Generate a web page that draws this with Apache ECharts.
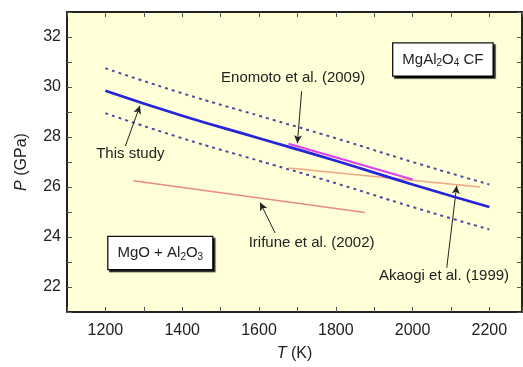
<!DOCTYPE html>
<html>
<head>
<meta charset="utf-8">
<script src="https://cdn.jsdelivr.net/npm/echarts@6/dist/echarts.min.js"></script>
<style>
html,body{margin:0;padding:0;background:#fff;}
#chart{width:523px;height:367px;}
</style>
</head>
<body>
<div id="chart"></div>
<script>
// ---- data ----
const temps = [1200, 1400, 1600, 1800, 2000, 2200];
const thisStudyP = [29.85, 28.85, 27.95, 27.05, 26.1, 25.2];
const upperP = [30.75, 29.75, 28.85, 27.95, 27.0, 26.1];
const lowerP = [28.95, 27.95, 27.05, 26.15, 25.2, 24.3];
const enomotoT = [1677, 2000];
const enomotoP = [27.73, 26.3];
const akaogiT = [1677, 2175];
const akaogiP = [26.76, 26.0];
const irifuneT = [1273, 1876];
const irifuneP = [26.25, 24.98];
const xTickLabels = [1200, 1400, 1600, 1800, 2000, 2200];
const yTickLabels = [22, 24, 26, 28, 30, 32];
// annotations: text, T, P
const notes = [
  ['This study', 1265, 27.33],
  ['Enomoto et al. (2009)', 1689, 30.37],
  ['Irifune et al. (2002)', 1737, 23.76],
  ['Akaogi et al. (1999)', 2082, 22.45]
];
const boxes = [
  ['MgAl{sub|2}O{sub|4} CF', 2079, 31.1],
  ['MgO + Al{sub|2}O{sub|3}', 1343, 23.36]
];
const arrows = [
  [[1252, 27.64], [1290, 29.25]],
  [[1711, 29.83], [1700, 27.75]],
  [[1642, 24.16], [1603, 25.38]],
  [[2089, 22.77], [2115, 26.05]]
];

const zip = (xs, ys) => xs.map((x, i) => [x, ys[i]]);
const txt = '#222';
const axisCol = '#222';

const baseX = {
  type: 'value', min: 1100, max: 2285, interval: 100,
  axisLine: { show: true, onZero: false, lineStyle: { color: axisCol, width: 2 } },
  axisTick: { show: true, inside: true, length: 5, lineStyle: { color: '#555' } },
  splitLine: { show: false }
};
const baseY = {
  type: 'value', min: 21, max: 33, interval: 1,
  axisLine: { show: true, onZero: false, lineStyle: { color: axisCol, width: 2 } },
  axisTick: { show: true, inside: true, length: 5, lineStyle: { color: '#555' } },
  splitLine: { show: false }
};

const option = {
  animation: false,
  backgroundColor: '#fff',
  grid: { left: 67, right: 1, top: 12, bottom: 53, show: true, backgroundColor: '#FFFFD8', borderWidth: 0 },
  xAxis: [
    Object.assign({}, baseX, {
      position: 'bottom',
      name: '{i|T} (K)', nameLocation: 'middle', nameGap: 34,
      nameTextStyle: { fontFamily: 'Liberation Sans', fontSize: 16, color: txt, rich: { i: { fontStyle: 'italic', fontSize: 16, fontFamily: 'Liberation Sans', color: txt } } },
      axisLabel: { show: true, customValues: xTickLabels, margin: 11, fontFamily: 'Liberation Sans', fontSize: 16, color: txt, formatter: v => String(v) }
    }),
    Object.assign({}, baseX, { position: 'top', axisLabel: { show: false } })
  ],
  yAxis: [
    Object.assign({}, baseY, {
      position: 'left',
      name: '{i|P} (GPa)', nameLocation: 'middle', nameGap: 37, nameRotate: 90,
      nameTextStyle: { fontFamily: 'Liberation Sans', fontSize: 16, color: txt, rich: { i: { fontStyle: 'italic', fontSize: 16, fontFamily: 'Liberation Sans', color: txt } } },
      axisLabel: { show: true, customValues: yTickLabels, margin: 6, fontFamily: 'Liberation Sans', fontSize: 16, color: txt, formatter: v => String(v) }
    }),
    Object.assign({}, baseY, { position: 'right', axisLabel: { show: false } })
  ],
  series: [
    { type: 'line', name: 'upper', data: zip(temps, upperP), smooth: true, symbol: 'none',
      lineStyle: { color: '#4b4ba6', width: 2, type: [3, 4] }, z: 3 },
    { type: 'line', name: 'lower', data: zip(temps, lowerP), smooth: true, symbol: 'none',
      lineStyle: { color: '#4b4ba6', width: 2, type: [3, 4] }, z: 3 },
    { type: 'line', name: 'Akaogi', data: zip(akaogiT, akaogiP), symbol: 'none',
      lineStyle: { color: '#F2A680', width: 1.5 }, z: 3 },
    { type: 'line', name: 'Irifune', data: zip(irifuneT, irifuneP), symbol: 'none',
      lineStyle: { color: '#E88A88', width: 1.5 }, z: 3 },
    { type: 'line', name: 'Enomoto', data: zip(enomotoT, enomotoP), symbol: 'none',
      lineStyle: { color: '#E040E8', width: 2.2 }, z: 4 },
    { type: 'line', name: 'This study', data: zip(temps, thisStudyP), smooth: true, symbol: 'none',
      lineStyle: { color: '#2424D8', width: 2.8 }, z: 5 },
    { type: 'line', name: 'arrows', data: [], symbol: 'none', z: 6,
      markLine: {
        silent: true, symbol: ['none', 'arrow'], symbolSize: [6, 8],
        lineStyle: { color: '#222', width: 1, type: 'solid' },
        label: { show: false },
        data: arrows.map(a => [{ coord: a[0] }, { coord: a[1] }])
      }
    },
    { type: 'scatter', name: 'notes', symbolSize: 1, itemStyle: { color: 'rgba(0,0,0,0)', opacity: 1 }, z: 7, silent: true,
      data: notes.map(n => ({ name: n[0], value: [n[1], n[2]] })),
      labelLayout: { hideOverlap: false },
      label: { show: true, position: 'inside', formatter: p => p.name,
        fontFamily: 'Liberation Sans', fontSize: 15, color: txt }
    },
    { type: 'scatter', name: 'boxes', symbolSize: 1, itemStyle: { color: 'rgba(0,0,0,0)', opacity: 1 }, z: 8, silent: true,
      data: boxes.map(n => ({ name: n[0], value: [n[1], n[2]] })),
      labelLayout: { hideOverlap: false },
      label: { show: true, position: 'inside', formatter: p => p.name,
        fontFamily: 'Liberation Sans', fontSize: 15, color: txt,
        backgroundColor: '#fff', borderColor: '#111', borderWidth: 1.3,
        padding: [7, 9, 7, 9],
        shadowColor: 'rgba(0,0,0,0.85)', shadowOffsetX: 2, shadowOffsetY: 2, shadowBlur: 1,
        rich: { sub: { fontFamily: 'Liberation Sans', fontSize: 10, color: txt, verticalAlign: 'bottom', padding: [8, 0, 0, 0] } }
      }
    }
  ]
};
const chart = echarts.init(document.getElementById('chart'), null, { renderer: 'canvas' });
chart.setOption(option);
</script>
</body>
</html>
